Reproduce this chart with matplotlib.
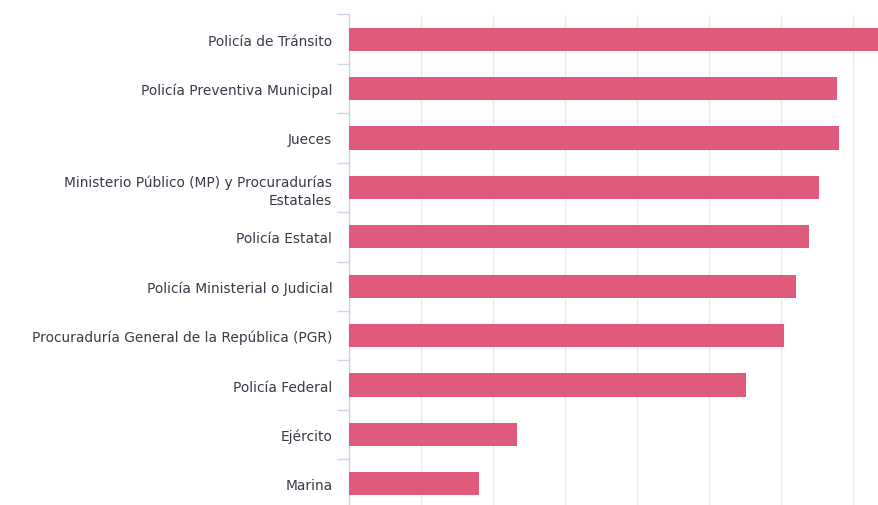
import numpy as np
import matplotlib.pyplot as plt

# categories, top to bottom
categories = [
    'Policía de Tránsito',
    'Policía Preventiva Municipal',
    'Jueces',
    'Ministerio Público (MP) y Procuradurías\nEstatales',
    'Policía Estatal',
    'Policía Ministerial o Judicial',
    'Procuraduría General de la República (PGR)',
    'Policía Federal',
    'Ejército',
    'Marina',
]
values = [75.0, 67.8, 68.1, 65.3, 63.9, 62.1, 60.4, 55.1, 23.3, 18.1]

bar_color = '#e05a7b'
axis_color = '#ccd6eb'
grid_color = '#ebebeb'
text_color = '#3a3a48'

fig = plt.figure(figsize=(8.79, 5.06), dpi=100)
ax = fig.add_axes([349 / 879, -3.5 / 506, 1 - 349 / 879, 494 / 506])

y = np.arange(len(categories))
ax.barh(y, values, height=0.47, color=bar_color, zorder=3)

ax.set_ylim(len(categories) - 0.5, -0.5)
ax.set_xlim(0, 73.6)

# vertical grid every 10
ax.set_xticks(np.arange(0, 80, 10))
ax.xaxis.grid(True, color=grid_color, linewidth=1, zorder=0)
ax.tick_params(axis='x', length=0, labelbottom=False)

# category labels, ticks at band boundaries
ax.set_yticks(y)
ax.set_yticklabels(categories, fontsize=9.9, color=text_color, linespacing=1.35)
ax.tick_params(axis='y', which='major', length=0, pad=12)
ax.set_yticks(np.arange(-0.5, len(categories), 1), minor=True)
ax.tick_params(axis='y', which='minor', length=8.6, width=1, color=axis_color)
for lbl in ax.get_yticklabels():
    lbl.set_horizontalalignment('right')

for side in ['top', 'right', 'bottom']:
    ax.spines[side].set_visible(False)
ax.spines['left'].set_color(axis_color)
ax.spines['left'].set_linewidth(1)

fig.savefig('out.png', dpi=100)
